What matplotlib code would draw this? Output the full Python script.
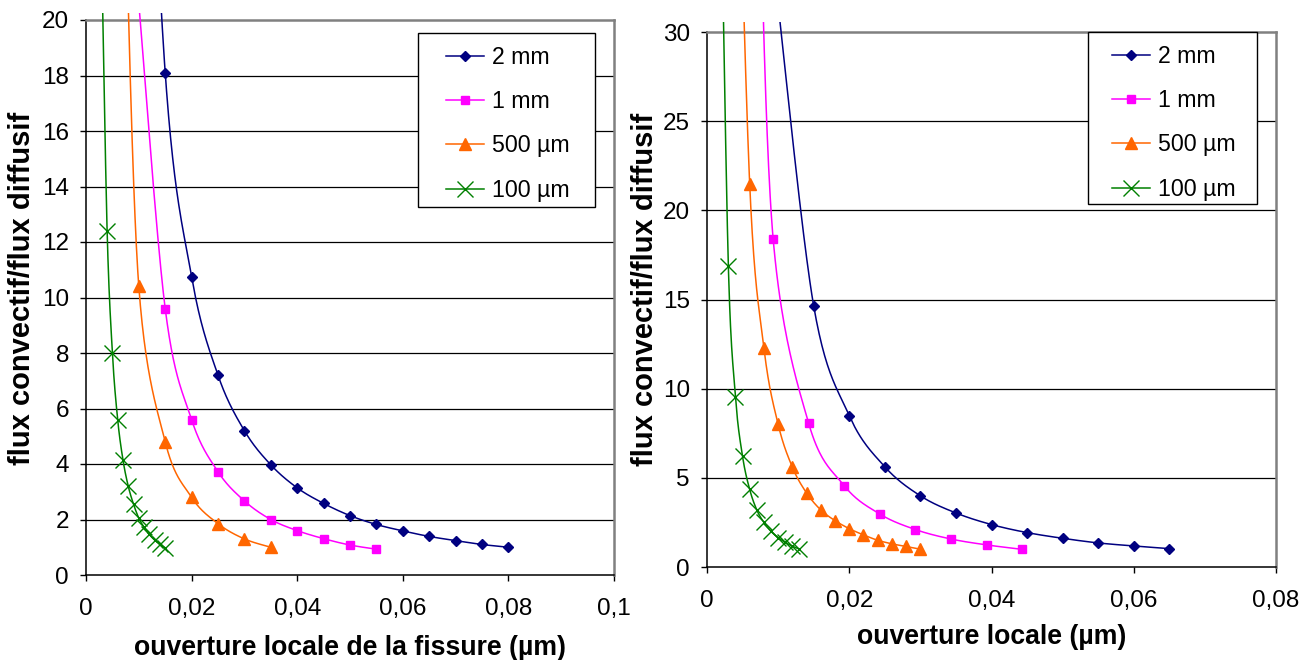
import numpy as np
import matplotlib
matplotlib.use('Agg')
import matplotlib.pyplot as plt
from matplotlib.lines import Line2D
from matplotlib.patches import Rectangle
from matplotlib.transforms import Bbox, TransformedBbox
from matplotlib.ticker import FixedLocator, FixedFormatter

plt.rcParams['font.family'] = ['Liberation Sans', 'DejaVu Sans']

series_labels = ['2 mm', '1 mm', '500 µm', '100 µm']

# ---- left panel data ----
left_x_2mm = [0.010, 0.015, 0.020, 0.025, 0.030, 0.035, 0.040, 0.045, 0.050, 0.055, 0.060, 0.065, 0.070, 0.075, 0.080]
left_y_2mm = [37.6, 18.1, 10.75, 7.2, 5.2, 3.97, 3.14, 2.58, 2.14, 1.82, 1.59, 1.39, 1.24, 1.10, 1.0]
left_x_1mm = [0.010, 0.015, 0.020, 0.025, 0.030, 0.035, 0.040, 0.045, 0.050, 0.055]
left_y_1mm = [20.6, 9.6, 5.6, 3.72, 2.67, 2.0, 1.6, 1.31, 1.08, 0.93]
left_x_500 = [0.0075, 0.010, 0.015, 0.020, 0.025, 0.030, 0.035]
left_y_500 = [24.0, 10.4, 4.8, 2.8, 1.85, 1.3, 1.0]
left_x_100 = [0.003, 0.004, 0.005, 0.006, 0.007, 0.008, 0.009, 0.010, 0.011, 0.012, 0.013, 0.014, 0.015]
left_y_100 = [22.0, 12.4, 8.0, 5.6, 4.15, 3.2, 2.55, 2.05, 1.72, 1.46, 1.26, 1.11, 0.98]

# ---- right panel data ----
right_x_2mm = [0.010, 0.015, 0.020, 0.025, 0.030, 0.035, 0.040, 0.045, 0.050, 0.055, 0.060, 0.065]
right_y_2mm = [31.5, 14.64, 8.49, 5.62, 3.99, 3.03, 2.38, 1.93, 1.61, 1.35, 1.18, 1.03]
right_x_1mm = [0.0073, 0.0093, 0.0143, 0.0193, 0.0243, 0.0293, 0.0343, 0.0393, 0.0443]
right_y_1mm = [40.0, 18.4, 8.05, 4.56, 2.97, 2.10, 1.57, 1.24, 0.99]
right_x_500 = [0.004, 0.006, 0.008, 0.010, 0.012, 0.014, 0.016, 0.018, 0.020, 0.022, 0.024, 0.026, 0.028, 0.030]
right_y_500 = [48.0, 21.5, 12.3, 8.0, 5.6, 4.15, 3.2, 2.6, 2.15, 1.8, 1.5, 1.3, 1.15, 1.0]
right_x_100 = [0.002, 0.003, 0.004, 0.005, 0.006, 0.007, 0.008, 0.009, 0.010, 0.011, 0.012, 0.013]
right_y_100 = [38.0, 16.9, 9.55, 6.2, 4.35, 3.2, 2.5, 2.0, 1.65, 1.38, 1.17, 1.0]

left_xticks = [0, 0.02, 0.04, 0.06, 0.08, 0.1]
left_xticklabels = ['0', '0,02', '0,04', '0,06', '0,08', '0,1']
left_yticks = [0, 2, 4, 6, 8, 10, 12, 14, 16, 18, 20]
right_xticks = [0, 0.02, 0.04, 0.06, 0.08]
right_xticklabels = ['0', '0,02', '0,04', '0,06', '0,08']
right_yticks = [0, 5, 10, 15, 20, 25, 30]

left_xlabel = 'ouverture locale de la fissure (µm)'
right_xlabel = 'ouverture locale (µm)'
ylabel = 'flux convectif/flux diffusif'

colors = ['#000080', '#FF00FF', '#FF6600', '#008000']
markers = ['D', 's', '^', 'x']
msizes = [5.4, 6.3, 9.0, 11.5]

W, H = 1302, 660


def smooth(x, y, n=40):
    """Excel-like smoothed line (Catmull-Rom Bezier)."""
    p = np.column_stack([x, y]).astype(float)
    ext = np.vstack([p[0], p, p[-1]])
    out = []
    t = np.linspace(0, 1, n)[:, None]
    for i in range(1, len(ext) - 2):
        p0, p1, p2, p3 = ext[i - 1], ext[i], ext[i + 1], ext[i + 2]
        c1 = p1 + (p2 - p0) / 6.0
        c2 = p2 - (p3 - p1) / 6.0
        seg = ((1 - t) ** 3) * p1 + 3 * ((1 - t) ** 2) * t * c1 + 3 * (1 - t) * t ** 2 * c2 + t ** 3 * p2
        out.append(seg)
    arr = np.vstack(out)
    return arr[:, 0], arr[:, 1]


def fx(px):
    return px / W


def fy(py):
    return 1 - py / H


fig = plt.figure(figsize=(W / 100, H / 100), dpi=100)
ax1 = fig.add_axes([fx(86), fy(575), (614 - 86) / W, (575 - 20) / H])
ax2 = fig.add_axes([fx(707), fy(567), (1276 - 707) / W, (567 - 32) / H])

left_data = [(left_x_2mm, left_y_2mm), (left_x_1mm, left_y_1mm), (left_x_500, left_y_500), (left_x_100, left_y_100)]
right_data = [(right_x_2mm, right_y_2mm), (right_x_1mm, right_y_1mm), (right_x_500, right_y_500), (right_x_100, right_y_100)]


def draw(ax, data, xticks, xticklabels, yticks, xmax, ymax, xlabel, xlabelpad, box, handle_px, row1_py,
         plot_area, ylabel_pos):
    px0, py0, px1, py1 = plot_area
    clip_box = TransformedBbox(Bbox([[fx(px0), fy(py1)], [fx(px1), fy(py0)]]), fig.transFigure)
    for i, (xs, ys) in enumerate(data):
        sx, sy = smooth(xs, ys)
        ln, = ax.plot(sx, sy, color=colors[i], lw=1.1, zorder=3)
        ln.set_clip_box(clip_box)
        ax.plot(xs, ys, linestyle='none', marker=markers[i], ms=msizes[i], color=colors[i],
                mec=colors[i], mew=1.0, zorder=4)
    ax.set_xlim(0, xmax)
    ax.set_ylim(0, ymax)
    ax.xaxis.set_major_locator(FixedLocator(xticks))
    ax.xaxis.set_major_formatter(FixedFormatter(xticklabels))
    ax.set_yticks(yticks)
    ax.set_yticklabels([str(v) for v in yticks])
    ax.tick_params(direction='out', length=4.3, width=1, labelsize=17.5, colors='black')
    ax.tick_params(axis='x', pad=12)
    ax.tick_params(axis='y', pad=8)
    for yv in yticks[1:-1]:
        ax.axhline(yv, color='black', lw=0.9, zorder=1)
    for s in ['left', 'bottom']:
        ax.spines[s].set_color('black')
        ax.spines[s].set_linewidth(1.1)
    for s in ['top', 'right']:
        ax.spines[s].set_color('#808080')
        ax.spines[s].set_linewidth(1.8)
    ax.set_xlabel(xlabel, fontsize=19.2, fontweight='bold', labelpad=xlabelpad)
    ax.set_ylabel(ylabel, fontsize=21, fontweight='bold')
    ax.yaxis.set_label_coords(fx(ylabel_pos[0]), fy(ylabel_pos[1]), transform=fig.transFigure)
    ax.yaxis.label.set_va('center')
    ax.yaxis.label.set_ha('center')
    # legend frame
    x0, y0, x1, y1 = box
    rect = Rectangle((fx(x0), fy(y1)), (x1 - x0) / W, (y1 - y0) / H, transform=fig.transFigure,
                     facecolor='white', edgecolor='black', lw=1.0, zorder=5, clip_on=False)
    ax.add_patch(rect)
    handles = [Line2D([0], [0], color=colors[i], lw=1.1, marker=markers[i], ms=msizes[i],
                      mec=colors[i], mew=1.0) for i in range(4)]
    fs = 16.7
    fs_px = fs * 100 / 72
    row_h = fs_px * 1.15
    leg = ax.legend(handles, series_labels, loc='upper left',
                    bbox_to_anchor=(fx(handle_px), fy(row1_py - row_h / 2)),
                    bbox_transform=fig.transFigure,
                    fontsize=fs, frameon=False,
                    handlelength=1.62, handletextpad=0.35, labelspacing=0.92, borderpad=0,
                    numpoints=1, borderaxespad=0)
    leg.set_zorder(6)


draw(ax1, left_data, left_xticks, left_xticklabels, left_yticks, 0.1, 20, left_xlabel, 11,
     (418, 33, 595, 207), 446, 59, (86, 13, 614, 575), (22, 288))
draw(ax2, right_data, right_xticks, right_xticklabels, right_yticks, 0.08, 30, right_xlabel, 9,
     (1088, 32, 1257, 204), 1112, 58, (707, 22, 1276, 567), (645, 289))

fig.savefig('out.png', dpi=100)
